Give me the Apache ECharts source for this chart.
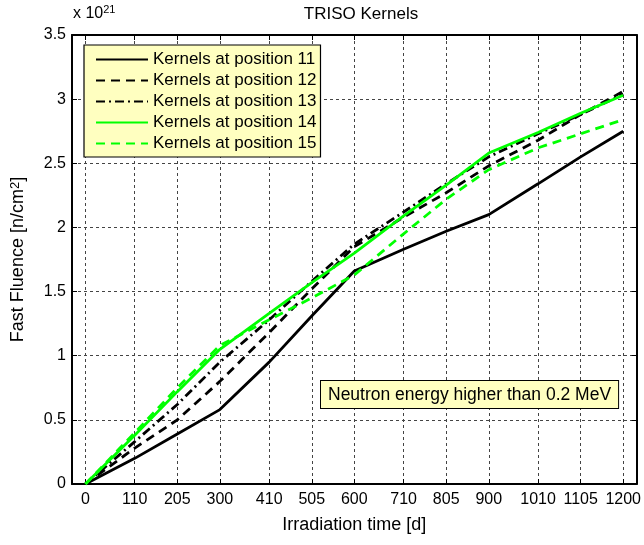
<!DOCTYPE html>
<html>
<head>
<meta charset="utf-8">
<script src="https://cdn.jsdelivr.net/npm/echarts@6/dist/echarts.min.js"></script>
<style>html,body{margin:0;padding:0;background:#fff}#c{width:644px;height:545px}</style>
</head>
<body>
<div id="c"></div>
<script>
const xTicks = [0,110,205,300,410,505,600,710,805,900,1010,1105,1200];
const yTicks = [0,0.5,1,1.5,2,2.5,3,3.5];
const seriesNames = ['Kernels at position 11','Kernels at position 12','Kernels at position 13','Kernels at position 14','Kernels at position 15'];
const pos11 = [0,0.20,0.39,0.58,0.95,1.31,1.66,1.83,1.97,2.10,2.34,2.55,2.75];
const pos12 = [0,0.28,0.50,0.80,1.18,1.52,1.85,2.08,2.27,2.48,2.68,2.88,3.06];
const pos13 = [0,0.33,0.62,0.95,1.28,1.58,1.87,2.12,2.34,2.55,2.73,2.88,3.04];
const pos14 = [0,0.38,0.72,1.05,1.33,1.57,1.80,2.09,2.33,2.58,2.74,2.89,3.03];
const pos15 = [0,0.40,0.75,1.08,1.28,1.45,1.63,1.95,2.22,2.45,2.62,2.73,2.84];

const FONT = "'Liberation Sans', Arial, Helvetica, sans-serif";
const values = [pos11,pos12,pos13,pos14,pos15];
const styles = [
  {color:'#000000', type:'solid'},
  {color:'#000000', type:[9,6]},
  {color:'#000000', type:[9,4,2,4]},
  {color:'#00ff00', type:'solid'},
  {color:'#00ff00', type:[9,6]}
];
const chart = echarts.init(document.getElementById('c'), null, {renderer:'canvas'});
const gridLine = {show:true, lineStyle:{color:'#444', width:1, type:[3,3]}};
chart.setOption({
  animation:false,
  backgroundColor:'#fff',
  title:{text:'TRISO Kernels', left:356, top:1, textAlign:'center',
    textStyle:{fontFamily:FONT, fontSize:17, fontWeight:'normal', color:'#000'}},
  grid:{left:72, right:6, top:35, bottom:61, containLabel:false},
  legend:{
    left:84, top:45, orient:'vertical',
    data:seriesNames,
    backgroundColor:'#ffffc0', borderColor:'#000', borderWidth:1.2,
    padding:[6,4,5,11], itemGap:4, itemWidth:52, itemHeight:14,
    itemStyle:{opacity:0},
    textStyle:{fontFamily:FONT, fontSize:17, color:'#000'},
    selectedMode:false
  },
  xAxis:[{
    type:'value', min:-30, max:1230, position:'bottom',
    axisLine:{show:true, onZero:false, lineStyle:{color:'#000', width:2}},
    axisTick:{show:true, inside:true, length:5, customValues:xTicks, lineStyle:{color:'#000'}},
    axisLabel:{show:true, customValues:xTicks, margin:8, fontFamily:FONT, fontSize:16, color:'#000',
      formatter:v=>String(v)},
    splitLine:gridLine,
    name:'Irradiation time [d]', nameLocation:'middle', nameGap:32,
    nameTextStyle:{fontFamily:FONT, fontSize:18, color:'#000'}
  },{
    type:'value', min:-30, max:1230, position:'top',
    axisLine:{show:true, onZero:false, lineStyle:{color:'#000', width:2}},
    axisTick:{show:true, inside:true, length:5, customValues:xTicks, lineStyle:{color:'#000'}},
    axisLabel:{show:false}, splitLine:{show:false}
  }],
  yAxis:[{
    type:'value', min:0, max:3.5, interval:0.5, position:'left',
    axisLine:{show:true, onZero:false, lineStyle:{color:'#000', width:2}},
    axisTick:{show:true, inside:true, length:5, lineStyle:{color:'#000'}},
    axisLabel:{show:true, margin:6, fontFamily:FONT, fontSize:16, color:'#000'},
    splitLine:gridLine,
    name:'Fast Fluence [n/cm{sup|2}]', nameLocation:'middle', nameGap:45, nameRotate:90,
    nameTextStyle:{fontFamily:FONT, fontSize:18, color:'#000',
      rich:{sup:{fontFamily:FONT, fontSize:13, color:'#000', verticalAlign:'top', lineHeight:10, padding:[0,0,9,0]}}}
  },{
    type:'value', min:0, max:3.5, interval:0.5, position:'right',
    axisLine:{show:true, onZero:false, lineStyle:{color:'#000', width:2}},
    axisTick:{show:true, inside:true, length:5, lineStyle:{color:'#000'}},
    axisLabel:{show:false}, splitLine:{show:false}
  }],
  series: seriesNames.map((n,i)=>({
    name:n, type:'line', xAxisIndex:0, yAxisIndex:0,
    symbol:'none', showSymbol:false,
    data: xTicks.map((x,j)=>[x, values[i][j]]),
    lineStyle:{color:styles[i].color, width:2.8, type:styles[i].type},
    itemStyle:{color:styles[i].color},
    z:2+i
  })),
  graphic:[
    {type:'text', left:73, top:4, style:{
      text:'x 10{s|21}', fontFamily:FONT, fontSize:16, fill:'#000',
      rich:{s:{fontFamily:FONT, fontSize:11, fill:'#000', verticalAlign:'top', padding:[0,0,9,0]}}
    }},
    {type:'text', left:320, top:380, z:100, style:{
      text:'Neutron energy higher than 0.2 MeV', fontFamily:FONT, fontSize:17.5, fill:'#000',
      backgroundColor:'#ffffc0', borderColor:'#000', borderWidth:1,
      padding:[5,7,4,7]
    }}
  ]
});
</script>
</body>
</html>
